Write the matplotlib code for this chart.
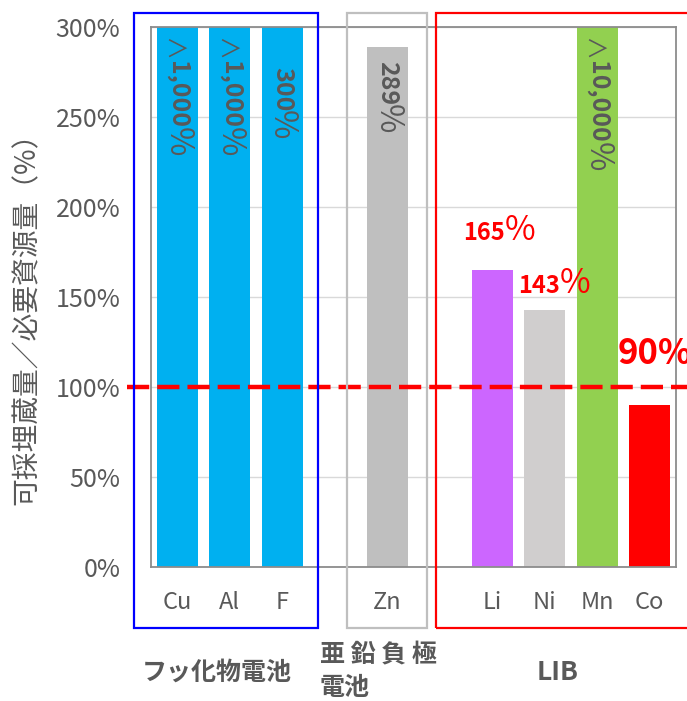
import numpy as np
import matplotlib
matplotlib.use("Agg")
import matplotlib.pyplot as plt
from matplotlib.patches import Rectangle

plt.rcParams["font.family"] = ["Noto Sans CJK JP", "DejaVu Sans"]

# data
group_names = ["フッ化物電池", "亜 鉛 負 極\n電池", "LIB"]
group_elements = [["Cu", "Al", "F"], ["Zn"], ["Li", "Ni", "Mn", "Co"]]
ratio = [1000, 1000, 300, 289, 165, 143, 10000, 90]  # 可採埋蔵量/必要資源量 (%)
over = [True, True, False, False, False, False, True, False]  # shown as ">"
bar_colors = ["#00B0F0", "#00B0F0", "#00B0F0", "#BFBFBF",
              "#CC66FF", "#D0CECE", "#92D050", "#FF0000"]
inside_label = [True, True, True, True, False, False, True, False]

GRAY = "#595959"
W, H = 687, 701


def fx(px):
    return px / W


def fy(py):
    return 1 - py / H


def main():
    fig = plt.figure(figsize=(W / 100, H / 100), dpi=100)
    ax = fig.add_axes([fx(151), fy(567), 525 / W, 540 / H])

    # slot positions: one empty slot between groups
    pos, labels = [], []
    slot = 0
    for g in group_elements:
        for e in g:
            pos.append(slot)
            labels.append(e)
            slot += 1
        slot += 1
    pos = np.array(pos)

    ax.bar(pos, ratio, width=0.78, color=bar_colors, zorder=2)
    ax.set_xlim(-0.5, 9.5)
    ax.set_ylim(0, 300)
    ax.set_xticks(pos)
    ax.set_xticklabels(labels, fontsize=17, color=GRAY)
    ax.set_yticks(np.arange(0, 301, 50))
    ax.set_yticklabels([f"{v}%" for v in range(0, 301, 50)], fontsize=18, color=GRAY)
    ax.tick_params(axis="both", length=0)
    ax.tick_params(axis="y", pad=22)
    ax.tick_params(axis="x", pad=17)
    ax.grid(axis="y", color="#D9D9D9", lw=1, zorder=0)
    for sp in ax.spines.values():
        sp.set_color("#8C8C8C")
        sp.set_linewidth(1.3)

    # 100% reference line
    ax.axhline(100, xmin=(127 - 151) / 525, xmax=1.03, color="#FF0000", lw=3.2,
               dashes=(5, 1.8), clip_on=False, zorder=4)

    fig.canvas.draw()
    renderer = fig.canvas.get_renderer()

    # labels written vertically inside the bars
    for i, x in enumerate(pos):
        if not inside_label[i]:
            continue
        if over[i]:
            y_top = 300 - 12 / 1.8
        elif ratio[i] >= 300:
            y_top = 300 - 40 / 1.8
        else:
            y_top = ratio[i] - 14 / 1.8
        pieces = []
        if over[i]:
            pieces.append(("＞", 17, 0, "normal"))
        pieces.append((f"{ratio[i]:,}", 18, 270, "bold"))
        pieces.append(("%", 23, 270, "normal"))
        offset = 0
        for s, size, rot, wt in pieces:
            t = ax.annotate(s, (x, y_top), xytext=(0, -offset), textcoords="offset pixels",
                            ha="center", va="top", rotation=rot, fontsize=size,
                            color=GRAY, fontweight=wt, zorder=5)
            offset += t.get_window_extent(renderer).height - 1

    # red labels outside the bars
    red_specs = {4: (6.24, 181.7), 5: (7.29, 152)}
    for i, (xs, yb) in red_specs.items():
        ax.text(xs, yb, f"{ratio[i]}", ha="right", va="baseline", fontsize=17,
                fontweight="bold", color="#FF0000", zorder=5)
        ax.text(xs, yb, "%", ha="left", va="baseline", fontsize=24,
                color="#FF0000", zorder=5)
    ax.text(8.395, 113, f"{ratio[7]}%", ha="left", va="baseline", fontsize=25,
            fontweight="bold", color="#FF0000", zorder=5, clip_on=False)

    # group frames
    frames = [(134, 318, "#0000FF"), (347, 427, "#BFBFBF"), (436, 700, "#FF0000")]
    for x0, x1, c in frames:
        fig.add_artist(Rectangle((fx(x0), fy(628)), (x1 - x0) / W, (628 - 13) / H,
                                 transform=fig.transFigure, fill=False, edgecolor=c,
                                 lw=1.6, clip_on=False))

    # group names
    fig.text(fx(217), fy(673), group_names[0], ha="center", va="center",
             fontsize=18, fontweight="bold", color=GRAY)
    fig.text(fx(320), fy(672), group_names[1], ha="left", va="center",
             fontsize=18, fontweight="bold", color=GRAY, linespacing=1.45)
    fig.text(fx(558), fy(673), group_names[2], ha="center", va="center",
             fontsize=19, fontweight="bold", color=GRAY)

    fig.text(fx(27), fy(312), "可採埋蔵量／必要資源量（%）", rotation=90,
             ha="center", va="center", fontsize=20, color=GRAY)

    fig.savefig("out.png", dpi=100)


if __name__ == "__main__":
    main()
